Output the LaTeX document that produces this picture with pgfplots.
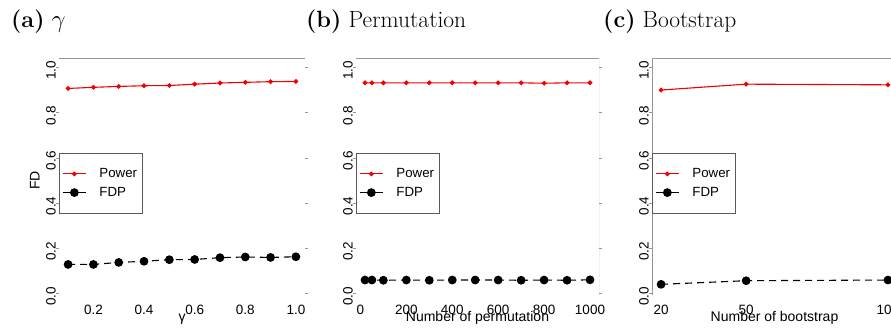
\documentclass[border=0pt]{standalone}
\usepackage{fontspec}
\usepackage{pgfplots}
\pgfplotsset{compat=1.18}
\newfontfamily\hv{Liberation Sans}
\definecolor{rred}{RGB}{240,0,0}
\definecolor{boxgray}{RGB}{150,150,150}
\definecolor{leggray}{RGB}{90,90,90}
\newcommand{\tickfont}{\hv\fontsize{13.5}{15}\selectfont}
\newcommand{\labfont}{\hv\fontsize{14}{16}\selectfont}
\newcommand{\legfont}{\hv\fontsize{13.3}{15}\selectfont}
\newcommand{\titfont}{\fontsize{23.5}{27}\selectfont}

\pgfplotsset{
  rpanel/.style={
    scale only axis, height=244pt,
    ymin=-0.04, ymax=1.04,
    ytick={0,0.2,0.4,0.6,0.8,1.0},
    /pgf/number format/assume math mode=true,
    /pgf/number format/1000 sep={},
    yticklabel style={rotate=90, anchor=south, font=\tickfont, inner sep=0pt, xshift=-3pt,
      /pgf/number format/fixed, /pgf/number format/fixed zerofill, /pgf/number format/precision=1},
    xticklabel style={font=\tickfont, inner sep=0pt, anchor=north, yshift=1pt},
    axis line style={draw=none},
    tick align=outside,
    ytick style={draw=boxgray, line width=0.6pt},
    xtick style={draw=none},
    major tick length=3pt,
    xlabel style={font=\labfont, at={(axis description cs:0.5,0)}, anchor=base, yshift=-19pt},
    legend style={at={(axis description cs:0,0.611)}, anchor=north west, draw=leggray,
      line width=0.6pt, font=\legfont, inner xsep=3pt, inner ysep=13pt, row sep=4pt,
      column sep=11pt, cells={anchor=west}},
    legend cell align=left,
    every axis plot/.append style={line width=1.1pt},
  },
  powerstyle/.style={rred, solid, mark=*, mark size=1.8pt,
    legend image code/.code={\draw[mark repeat=2,mark phase=2,##1] plot coordinates {(0pt,0pt) (11.5pt,0pt) (23pt,0pt)};}},
  fdpstyle/.style={black, dash pattern=on 7pt off 5pt, mark=*, mark size=3.8pt, mark options={solid},
    legend image code/.code={\draw[mark repeat=2,mark phase=2,##1,solid] plot coordinates {(0pt,0pt) (11.5pt,0pt) (23pt,0pt)};}},
}

\begin{document}
\begin{tikzpicture}
\useasboundingbox (0pt,0pt) rectangle (891pt,327pt);
\clip (0pt,0pt) rectangle (891pt,327pt);

% (a)
\begin{axis}[rpanel, at={(59pt,24.6pt)}, anchor=south west, width=246pt,
  xmin=0.064, xmax=1.036,
  xtick={0.2,0.4,0.6,0.8,1.0},
  xticklabel style={/pgf/number format/fixed, /pgf/number format/fixed zerofill, /pgf/number format/precision=1},
  xlabel={γ},
  ylabel={FD}, ylabel style={font=\labfont, at={(axis description cs:-0.098,0.5)}, anchor=center}]
\draw[boxgray, line width=0.6pt] (rel axis cs:0,1) -- (rel axis cs:1,1) -- (rel axis cs:1,0.03);
\addplot[powerstyle] coordinates {(0.1,0.907) (0.2,0.912) (0.3,0.916) (0.4,0.919) (0.5,0.920) (0.6,0.926) (0.7,0.931) (0.8,0.934) (0.9,0.937) (1.0,0.938)};
\addplot[fdpstyle] coordinates {(0.1,0.128) (0.2,0.128) (0.3,0.137) (0.4,0.142) (0.5,0.149) (0.6,0.150) (0.7,0.158) (0.8,0.161) (0.9,0.159) (1.0,0.162)};
\legend{Power\hspace{14pt},FDP}
\end{axis}

% (b)
\begin{axis}[rpanel, at={(356pt,24.6pt)}, anchor=south west, width=243pt,
  xmin=-19.2, xmax=1039.2,
  xtick={0,200,400,600,800,1000},
  xlabel={Number of permutation}]
\draw[boxgray, line width=0.6pt] (rel axis cs:0,1) -- (rel axis cs:1,1) -- (rel axis cs:1,0.03);
\addplot[powerstyle] coordinates {(20,0.932) (50,0.932) (100,0.932) (200,0.932) (300,0.932) (400,0.932) (500,0.932) (600,0.932) (700,0.932) (800,0.930) (900,0.932) (1000,0.932)};
\addplot[fdpstyle] coordinates {(20,0.059) (50,0.059) (100,0.058) (200,0.059) (300,0.058) (400,0.059) (500,0.059) (600,0.059) (700,0.058) (800,0.059) (900,0.058) (1000,0.060)};
\legend{Power\hspace{14pt},FDP}
\end{axis}

% (c)
\begin{axis}[rpanel, at={(652pt,24.6pt)}, anchor=south west, width=245pt,
  xmin=16.8, xmax=103.2,
  xtick={20,50,100},
  xlabel={Number of bootstrap}]
\draw[boxgray, line width=0.6pt] (rel axis cs:0,0.03) -- (rel axis cs:0,1) -- (rel axis cs:1,1) -- (rel axis cs:1,0.03);
\addplot[powerstyle] coordinates {(20,0.900) (50,0.926) (100,0.923)};
\addplot[fdpstyle] coordinates {(20,0.040) (50,0.056) (100,0.059)};
\legend{Power\hspace{14pt},FDP}
\end{axis}

\node[anchor=base west, inner sep=0pt, font=\titfont] at (11pt,299pt) {\textbf{(a)} $\gamma$};
\node[anchor=base west, inner sep=0pt, font=\titfont] at (306pt,299pt) {\textbf{(b)} Permutation};
\node[anchor=base west, inner sep=0pt, font=\titfont] at (603pt,299pt) {\textbf{(c)} Bootstrap};
\end{tikzpicture}
\end{document}
